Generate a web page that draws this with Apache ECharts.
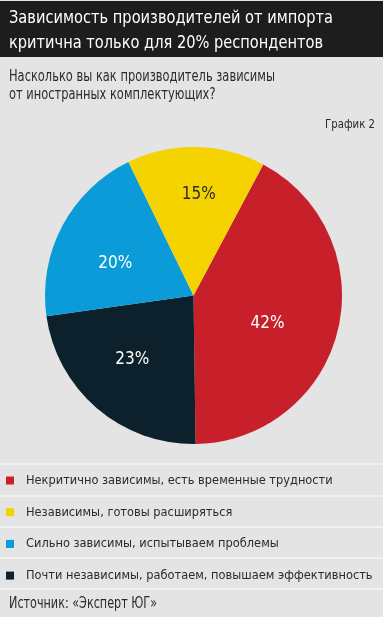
<!DOCTYPE html>
<html>
<head>
<meta charset="utf-8">
<script src="https://cdn.jsdelivr.net/npm/echarts@6/dist/echarts.min.js"></script>
<style>
html,body{margin:0;padding:0;background:#e4e4e4;}
#c{width:383px;height:617px;}
</style>
</head>
<body>
<div id="c"></div>
<script>
const titleLines = ['Зависимость производителей от импорта', 'критична только для 20% респондентов'];
const subtitleLines = ['Насколько вы как производитель зависимы', 'от иностранных комплектующих?'];
const chartTag = 'График 2';
const sourceText = 'Источник: «Эксперт ЮГ»';
// Slices in drawing order (clockwise from the top-right)
const categories = [
  'Некритично зависимы, есть временные трудности',
  'Почти независимы, работаем, повышаем эффективность',
  'Сильно зависимы, испытываем проблемы',
  'Независимы, готовы расширяться'
];
const values = [42, 23, 20, 15];
const legendOrder = [
  'Некритично зависимы, есть временные трудности',
  'Независимы, готовы расширяться',
  'Сильно зависимы, испытываем проблемы',
  'Почти независимы, работаем, повышаем эффективность'
];

// ---- styles ----
const colors = ['#c8202a', '#0c212b', '#0a9bd8', '#f4d300'];
const labelColors = ['#ffffff', '#ffffff', '#ffffff', '#2a2a2a'];
const labelNudge = [[-1, 10], [-11, 5], [-10, 4], [4, -24]];
const FAM = '"DejaVu Sans Condensed", "DejaVu Sans", sans-serif';

const mctx = document.createElement('canvas').getContext('2d');
function measure(text, size) { mctx.font = size + 'px ' + FAM; return mctx.measureText(text).width; }
function fitText(text, x, yMid, size, targetW, fill) {
  const w = measure(text, size);
  return {type: 'text', x: x, y: yMid, scaleX: targetW / w, scaleY: 1,
    style: {text: text, fill: fill, fontSize: size, fontFamily: FAM, align: 'left', verticalAlign: 'middle'}};
}

const graphics = [
  {type: 'rect', shape: {x: 0, y: 1, width: 383, height: 56}, style: {fill: '#1d1d1d'}, z: 0},
  fitText(titleLines[0], 9, 19, 17, 324, '#ffffff'),
  fitText(titleLines[1], 9, 44, 17, 314, '#ffffff'),
  fitText(subtitleLines[0], 9, 77, 15, 266, '#2b2b2b'),
  fitText(subtitleLines[1], 9, 95, 15, measure(subtitleLines[1], 15) * 266 / measure(subtitleLines[0], 15), '#2b2b2b'),
  fitText(chartTag, 325, 125, 13, 50, '#2b2b2b'),
  fitText(sourceText, 9, 604, 15, 148, '#2b2b2b')
];
[464, 496, 527, 558, 589].forEach(y => graphics.push({type: 'rect', shape: {x: 0, y: y - 0.75, width: 383, height: 1.5}, style: {fill: '#f6f6f6'}}));

const legendFont = 16 * 307 / measure(legendOrder[0], 16);

const chart = echarts.init(document.getElementById('c'), null, {renderer: 'canvas'});
chart.setOption({
  backgroundColor: '#e4e4e4',
  animation: false,
  color: colors,
  graphic: graphics,
  legend: {
    data: legendOrder,
    orient: 'vertical',
    left: 1,
    top: 467.5,
    icon: 'rect',
    itemWidth: 8,
    itemHeight: 8,
    itemGap: 15.7,
    selectedMode: false,
    textStyle: {fontFamily: FAM, fontSize: legendFont, color: '#2b2b2b', lineHeight: 16, padding: [0, 0, 0, 7]}
  },
  series: [{
    type: 'pie',
    center: [193.5, 295.5],
    radius: [0, 148.5],
    startAngle: 62,
    clockwise: true,
    label: {
      show: true,
      position: 'inside',
      formatter: '{c}%',
      fontFamily: FAM,
      fontSize: 17
    },
    labelLine: {show: false},
    itemStyle: {borderWidth: 0},
    emphasis: {disabled: true},
    data: categories.map((n, i) => ({name: n, value: values[i],
      label: {color: labelColors[i], offset: labelNudge[i]}}))
  }]
});
</script>
</body>
</html>
